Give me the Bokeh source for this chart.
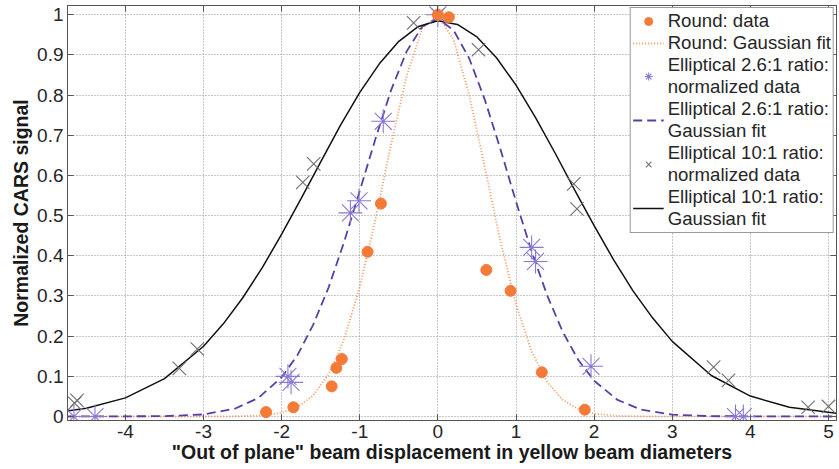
from bokeh.plotting import figure
from bokeh.models import (Range1d, FixedTicker, LinearAxis, CustomJSTickFormatter,
                          Legend, LegendItem, CustomLabelingPolicy)
from bokeh.embed import file_html
from bokeh.resources import INLINE

# ---------------- data ----------------
x_ticks = [-4, -3, -2, -1, 0, 1, 2, 3, 4, 5]
y_ticks = [0, 0.1, 0.2, 0.3, 0.4, 0.5, 0.6, 0.7, 0.8, 0.9, 1]

round_x = [-2.20, -1.85, -1.36, -1.30, -1.23, -0.90, -0.73, 0.0, 0.14, 0.62, 0.93, 1.33, 1.88]
round_y = [0.011, 0.023, 0.075, 0.121, 0.143, 0.41, 0.53, 1.0, 0.994, 0.365, 0.313, 0.11, 0.017]

round_fit_x = [-4.75, -3.0, -2.5, -2.2, -2.0, -1.8, -1.6, -1.4, -1.2, -1.0, -0.8, -0.6, -0.4,
               -0.2, 0.0, 0.2, 0.4, 0.6, 0.8, 1.0, 1.2, 1.4, 1.6, 1.8, 2.0, 2.3, 2.7, 5.1]
round_fit_y = [0.0, 0.0, 0.0007, 0.0035, 0.0094, 0.0231, 0.0517, 0.1048, 0.193, 0.323, 0.490,
               0.677, 0.848, 0.966, 0.999, 0.938, 0.801, 0.621, 0.437, 0.279, 0.162, 0.0856,
               0.0411, 0.0179, 0.0071, 0.0015, 0.0001, 0.0]

ell26_x = [-4.66, -4.39, -1.92, -1.88, -1.12, -1.01, -0.70, 0.0, 1.20, 1.25, 1.96, 3.81, 3.91]
ell26_y = [0.0, 0.0, 0.10, 0.085, 0.507, 0.537, 0.735, 1.0, 0.421, 0.386, 0.125, 0.0, 0.0]

ell26_fit_x = [-4.75, -3.5, -3.0, -2.6, -2.3, -2.0, -1.8, -1.6, -1.4, -1.2, -1.0, -0.8, -0.6,
               -0.4, -0.2, 0.0, 0.2, 0.4, 0.6, 0.8, 1.0, 1.2, 1.4, 1.6, 1.8, 2.0, 2.3, 2.6,
               3.0, 3.5, 5.1]
ell26_fit_y = [0.0, 0.0008, 0.0052, 0.0194, 0.046, 0.0977, 0.152, 0.227, 0.321, 0.435, 0.562,
               0.691, 0.812, 0.909, 0.971, 0.99, 0.962, 0.892, 0.789, 0.666, 0.535, 0.411,
               0.301, 0.210, 0.140, 0.0889, 0.0412, 0.0172, 0.0046, 0.0007, 0.0]

ell10_x = [-4.65, -4.62, -3.31, -3.08, -1.73, -1.59, -0.31, 0.0, 0.52, 1.74, 1.78, 3.53, 3.72,
           4.74, 5.0]
ell10_y = [0.033, 0.04, 0.12, 0.168, 0.583, 0.629, 0.98, 1.0, 0.913, 0.579, 0.517, 0.123, 0.09,
           0.023, 0.025]

ell10_fit_x = [-4.75, -4.5, -4.0, -3.5, -3.0, -2.75, -2.5, -2.25, -2.0, -1.75, -1.5, -1.25,
               -1.0, -0.75, -0.5, -0.25, 0.0, 0.25, 0.5, 0.75, 1.0, 1.25, 1.5, 1.75, 2.0,
               2.25, 2.5, 2.75, 3.0, 3.5, 4.0, 4.5, 5.1]
ell10_fit_y = [0.0134, 0.0207, 0.0464, 0.0944, 0.175, 0.230, 0.295, 0.370, 0.454, 0.543, 0.634,
               0.724, 0.807, 0.878, 0.934, 0.971, 0.985, 0.976, 0.945, 0.893, 0.825, 0.744,
               0.656, 0.564, 0.475, 0.390, 0.312, 0.245, 0.187, 0.102, 0.0508, 0.0229, 0.0078]

labels = ["Round: data",
          "Round: Gaussian fit",
          "Elliptical 2.6:1 ratio:\nnormalized data",
          "Elliptical 2.6:1 ratio:\nGaussian fit",
          "Elliptical 10:1 ratio:\nnormalized data",
          "Elliptical 10:1 ratio:\nGaussian fit"]

x_label = '"Out of plane" beam displacement in yellow beam diameters'
y_label = "Normalized CARS signal"

# ---------------- styling ----------------
FONT = "Liberation Sans"
ORANGE = "#f47a38"
ORANGE_FIT = "#f6915a"
PURPLE = "#8a78d4"
PURPLE_FIT = "#5a3ea6"
GRAY = "#6e6e6e"
AXIS_C = "#555555"
TEXT_C = "#262626"

p = figure(width=839, height=469, output_backend="svg", toolbar_location=None,
           x_range=Range1d(-4.742, 5.103), y_range=Range1d(-0.00996, 1.0232),
           min_border_left=67, min_border_right=3, min_border_top=5, min_border_bottom=49,
           x_axis_label=x_label, y_axis_label=y_label)
p.background_fill_color = "white"
p.border_fill_color = "white"
p.outline_line_color = AXIS_C
p.outline_line_width = 1

fmt = CustomJSTickFormatter(code="return String(parseFloat(tick.toFixed(3)));")

for ax, ticks in ((p.xaxis[0], x_ticks), (p.yaxis[0], y_ticks)):
    ax.ticker = FixedTicker(ticks=ticks)
    ax.formatter = fmt
    ax.major_tick_in = 6
    ax.major_tick_out = 0
    ax.minor_tick_line_color = None
    ax.axis_line_color = AXIS_C
    ax.major_tick_line_color = AXIS_C
    ax.major_label_text_font = FONT
    ax.major_label_text_font_size = "19px"
    ax.major_label_text_color = TEXT_C
    ax.axis_label_text_font = FONT
    ax.axis_label_text_font_size = "19.5px"
    ax.axis_label_text_font_style = "bold"
    ax.axis_label_text_color = "#1a1a1a"

p.xaxis[0].major_label_standoff = 4
p.xaxis[0].axis_label_standoff = 0
p.yaxis[0].major_label_standoff = 4
p.yaxis[0].axis_label_standoff = 2

# top / right axes with inward ticks only, no labels drawn and no space taken
hide_all = CustomLabelingPolicy(code="""
    const arr = [...indices];
    for (const i of arr) indices.unset(i);
""")
for loc, ticks in (("above", x_ticks), ("right", y_ticks)):
    ax = LinearAxis(ticker=FixedTicker(ticks=ticks), major_tick_in=6, major_tick_out=0,
                    minor_tick_line_color=None, axis_line_color=AXIS_C,
                    major_tick_line_color=AXIS_C, major_label_policy=hide_all,
                    major_label_text_font_size="0px", major_label_standoff=0)
    p.add_layout(ax, loc)

for g in (p.xgrid[0], p.ygrid[0]):
    g.grid_line_color = "#8f8f8f"
    g.grid_line_dash = "1 2"
    g.grid_line_width = 1
p.xgrid[0].ticker = FixedTicker(ticks=x_ticks)
p.ygrid[0].ticker = FixedTicker(ticks=y_ticks)

# ---------------- glyphs ----------------
r_round_fit = p.line(round_fit_x, round_fit_y, line_color=ORANGE_FIT, line_width=1.8,
                     line_dash="1 2")
r_e26_fit = p.line(ell26_fit_x, ell26_fit_y, line_color=PURPLE_FIT, line_width=1.8,
                   line_dash="9 5")
r_e10_fit = p.line(ell10_fit_x, ell10_fit_y, line_color="#111111", line_width=1.5)

r_e10 = p.scatter(ell10_x, ell10_y, marker="x", size=19, line_color=GRAY, line_width=1.1)
r_e26 = p.scatter(ell26_x, ell26_y, marker="asterisk", size=24, line_color=PURPLE,
                  line_width=1.1)
r_round = p.scatter(round_x, round_y, marker="circle", size=11, fill_color=ORANGE,
                    line_color=ORANGE)

legend = Legend(items=[
    LegendItem(label=labels[0], renderers=[r_round]),
    LegendItem(label=labels[1], renderers=[r_round_fit]),
    LegendItem(label=labels[2], renderers=[r_e26]),
    LegendItem(label=labels[3], renderers=[r_e26_fit]),
    LegendItem(label=labels[4], renderers=[r_e10]),
    LegendItem(label=labels[5], renderers=[r_e10_fit]),
], location="top_right")
legend.margin = 2
legend.padding = 2
legend.spacing = 0
legend.glyph_width = 31
legend.glyph_height = 20
legend.label_height = 20
legend.label_standoff = 4
legend.label_text_font = FONT
legend.label_text_font_size = "18.6px"
legend.label_text_color = TEXT_C
legend.label_text_line_height = 1.05
legend.border_line_color = "#333333"
legend.border_line_width = 1
legend.background_fill_color = "white"
legend.background_fill_alpha = 1
p.add_layout(legend)

open("out.html", "w").write(file_html(p, INLINE))
